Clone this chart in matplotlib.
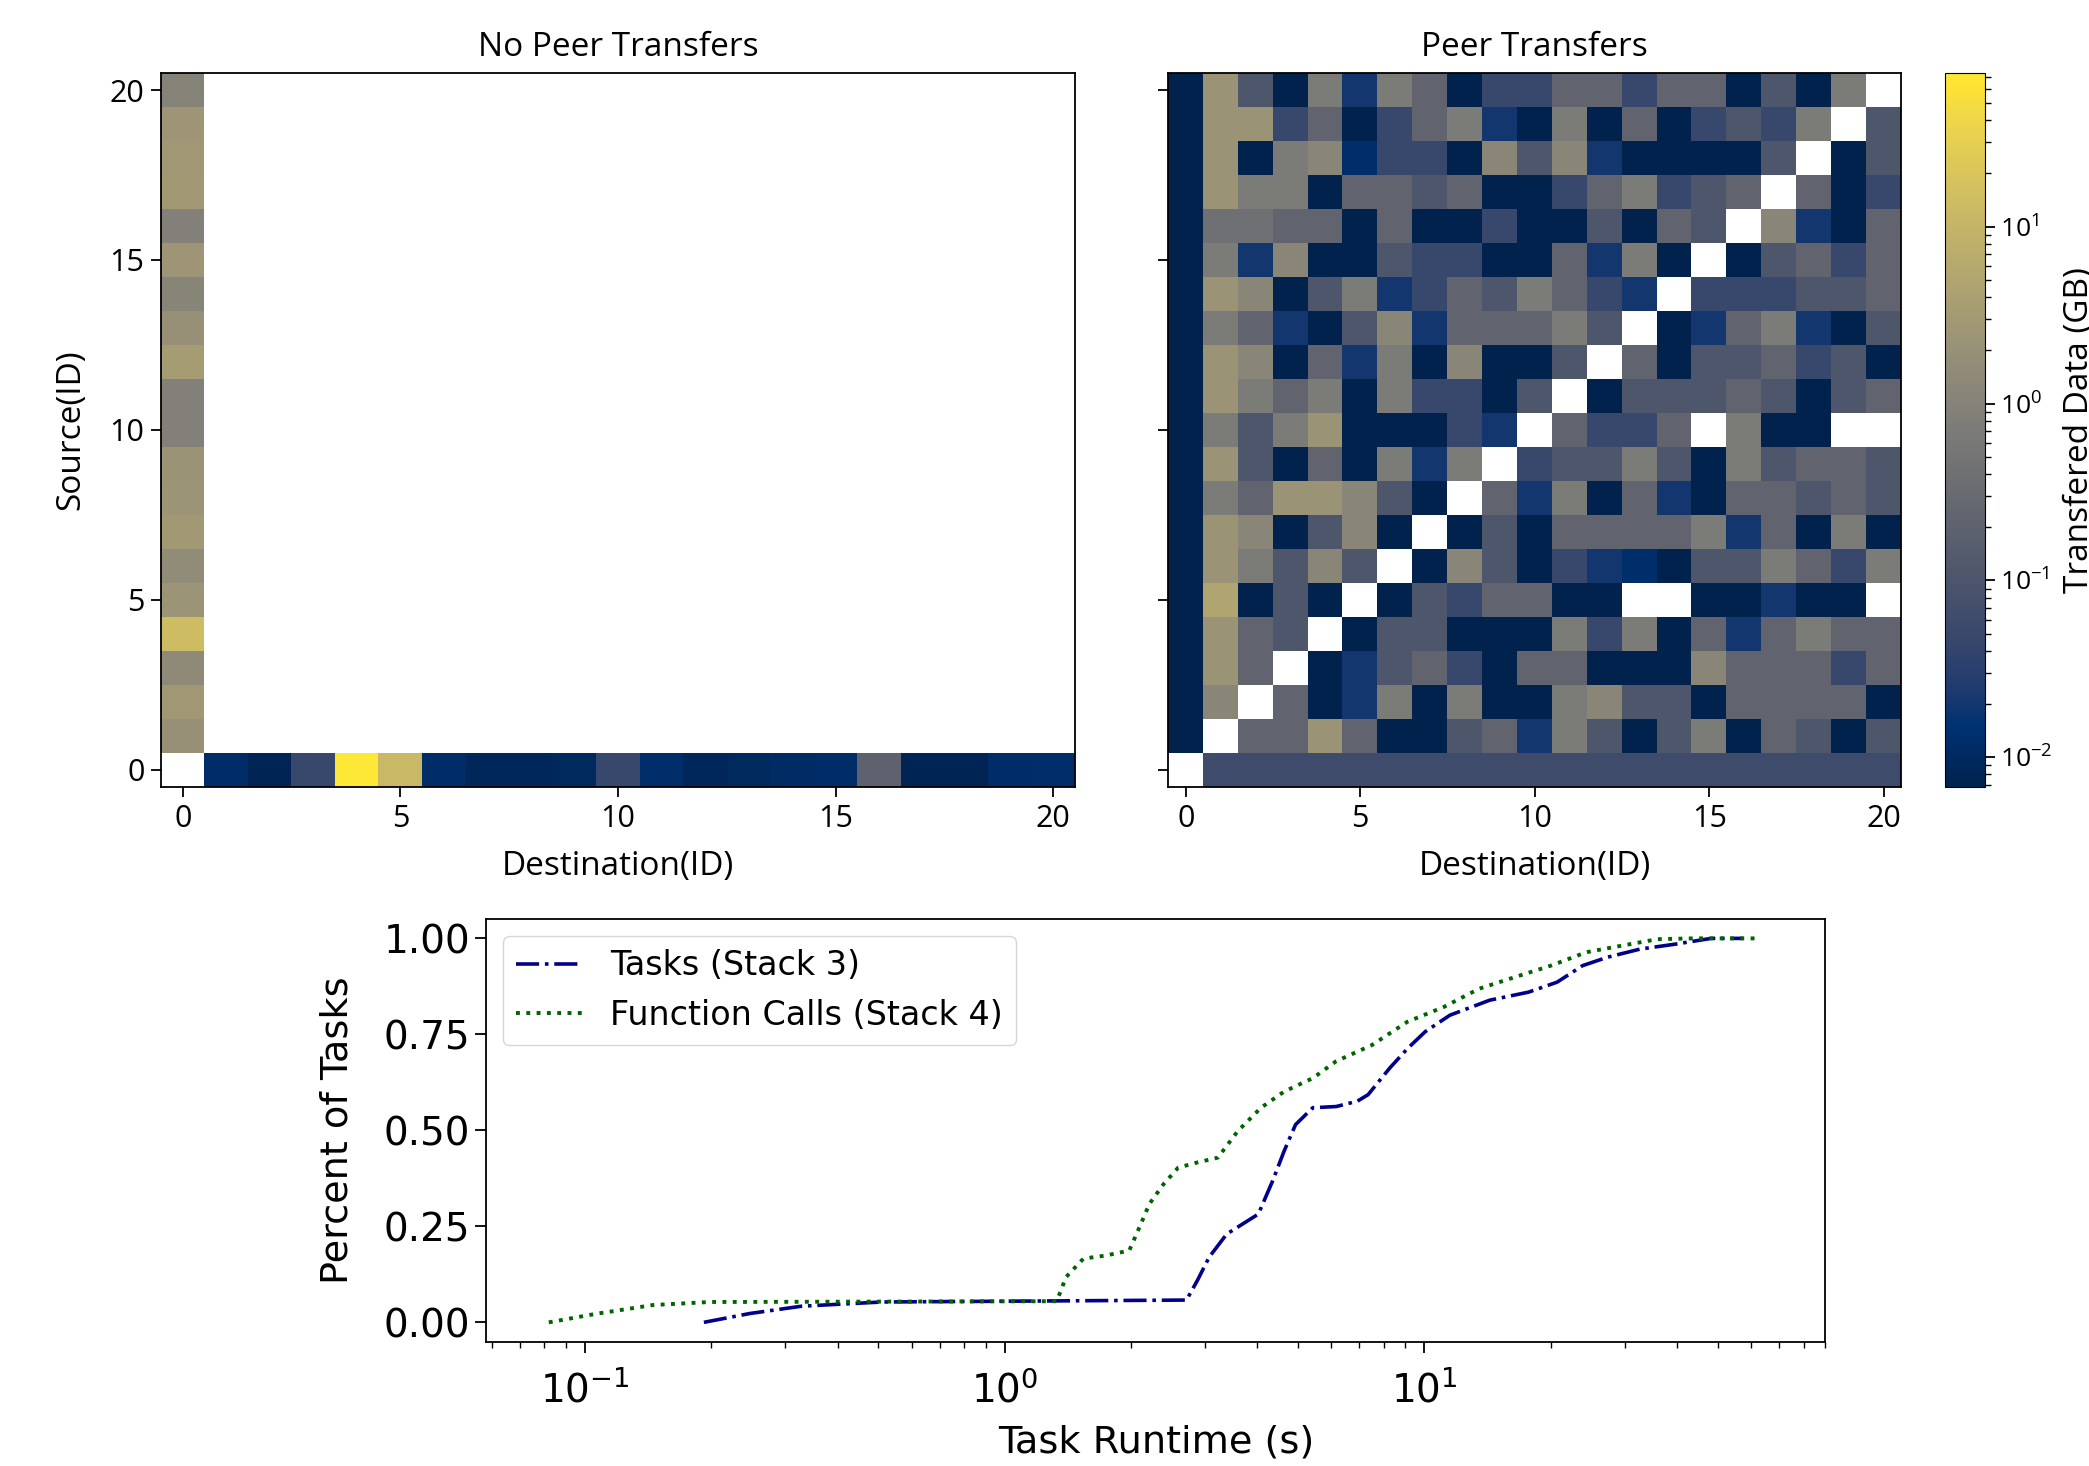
import numpy as np
import matplotlib

matplotlib.use("Agg")
import matplotlib.pyplot as plt
from matplotlib.colors import LogNorm

# --- transfer volumes (GB), node 0 is the manager ---
node_ids = np.arange(21)

# without peer transfers everything goes through the manager
no_peer_to_manager = [2.0, 2.8, 1.5, 14.0, 2.4, 1.6, 3.0, 2.4, 2.2, 0.9,
                      0.9, 3.5, 2.0, 1.1, 2.5, 0.9, 3.0, 2.8, 2.5, 1.0]  # sources 1..20
no_peer_from_manager = [0.012, 0.008, 0.05, 74.0, 12.0, 0.012, 0.009, 0.009, 0.01, 0.05,
                        0.013, 0.009, 0.01, 0.011, 0.012, 0.2, 0.008, 0.008, 0.012, 0.013]  # dests 1..20

# with peer transfers, rows are sources 20 (top) down to 0, columns destinations 0..20
peer_transfers = [
    [.007, 2.2, .11, .007, .7, .02, .7, .23, .007, .05, .05, .23, .23, .05, .23, .23, .007, .11, .007, .7, 0],
    [.007, 2.2, 2.2, .05, .23, .007, .05, .23, .7, .02, .007, .7, .007, .23, .007, .05, .11, .05, .7, 0, .11],
    [.007, 2.2, .007, .7, 1.2, .013, .05, .05, .007, 1.2, .11, 1.2, .02, .007, .007, .007, .007, .11, 0, .007, .11],
    [.007, 2.2, .7, .7, .007, .23, .23, .11, .23, .007, .007, .05, .23, .7, .05, .11, .23, 0, .23, .007, .05],
    [.007, .4, .4, .23, .23, .007, .23, .007, .007, .05, .007, .007, .11, .007, .23, .11, 0, 1.2, .02, .007, .23],
    [.007, .7, .02, 1.2, .007, .007, .11, .05, .05, .007, .007, .23, .02, .7, .007, 0, .007, .11, .23, .05, .23],
    [.007, 2.2, 1.2, .007, .11, .7, .02, .05, .23, .11, .7, .23, .05, .02, 0, .05, .05, .05, .11, .11, .23],
    [.007, .7, .23, .02, .007, .11, 1.2, .02, .23, .23, .23, .7, .11, 0, .007, .02, .23, .7, .02, .007, .11],
    [.007, 2.2, 1.2, .007, .23, .02, .7, .007, 1.2, .007, .007, .11, 0, .23, .007, .11, .11, .23, .05, .11, .007],
    [.007, 2.2, .7, .23, .7, .007, .7, .05, .05, .007, .11, 0, .007, .11, .11, .11, .23, .11, .007, .11, .23],
    [.007, .7, .11, .7, 2.2, .007, .007, .007, .05, .02, 0, .23, .05, .05, .23, 0, .7, .007, .007, 0, 0],
    [.007, 2.2, .11, .007, .23, .007, .7, .02, .7, 0, .05, .11, .11, .7, .11, .007, .7, .11, .23, .23, .11],
    [.007, .7, .23, 2.2, 2.2, 1.2, .11, .007, 0, .23, .02, .7, .007, .23, .02, .007, .23, .23, .11, .23, .11],
    [.007, 2.2, 1.2, .007, .11, 1.2, .007, 0, .007, .11, .007, .23, .23, .23, .23, .7, .02, .23, .007, .7, .007],
    [.007, 2.2, .7, .11, 1.2, .11, 0, .007, 1.2, .11, .007, .05, .02, .013, .007, .11, .11, .7, .23, .05, .7],
    [.007, 5.0, .007, .11, .007, 0, .007, .11, .05, .23, .23, .007, .007, 0, 0, .007, .007, .02, .007, .007, 0],
    [.007, 2.2, .23, .11, 0, .007, .11, .11, .007, .007, .007, .7, .05, .7, .007, .23, .02, .23, .7, .23, .23],
    [.007, 2.2, .23, 0, .007, .02, .11, .23, .05, .007, .23, .23, .007, .007, .007, 1.2, .23, .23, .23, .05, .23],
    [.007, 1.2, 0, .23, .007, .02, .7, .007, .7, .007, .007, .7, 1.2, .11, .11, .007, .23, .23, .23, .23, .007],
    [.007, 0, .23, .23, 2.2, .23, .007, .007, .11, .23, .02, .7, .11, .007, .11, .7, .007, .23, .11, .007, .11],
    [0, .06, .06, .06, .06, .06, .06, .06, .06, .06, .06, .06, .06, .06, .06, .06, .06, .06, .06, .06, .06],
]

# --- task runtime CDFs ---
task_runtime_s = [0.192, 0.247, 0.328, 0.51, 2.71, 2.88, 3.07, 3.38, 4.02, 4.35, 4.63, 4.93,
                  5.42, 6.16, 6.92, 7.34, 8.26, 9.11, 10.04, 11.5, 14.3, 17.7, 20.7, 23.8,
                  27.3, 32.6, 39.6, 48.2, 57.5]
task_cdf = [0.0, 0.023, 0.042, 0.053, 0.058, 0.11, 0.17, 0.23, 0.282, 0.369, 0.446, 0.515,
            0.559, 0.562, 0.576, 0.593, 0.662, 0.713, 0.757, 0.80, 0.839, 0.86, 0.886, 0.929,
            0.951, 0.972, 0.985, 1.0, 1.0]

call_runtime_s = [0.082, 0.106, 0.145, 0.198, 1.33, 1.40, 1.54, 1.74, 1.98, 2.11, 2.21, 2.39,
                  2.59, 2.89, 3.22, 3.59, 4.08, 4.63, 5.42, 6.16, 7.49, 9.11, 11.1, 13.5,
                  16.4, 20.0, 24.3, 29.5, 35.9, 43.7, 62.8]
call_cdf = [0.0, 0.022, 0.045, 0.053, 0.055, 0.118, 0.166, 0.174, 0.187, 0.256, 0.308, 0.36,
            0.403, 0.417, 0.429, 0.498, 0.559, 0.601, 0.636, 0.68, 0.722, 0.783, 0.821, 0.869,
            0.899, 0.929, 0.964, 0.981, 0.998, 1.0, 1.0]


def build_no_peer_matrix():
    mat = np.zeros((len(node_ids), len(node_ids)))
    mat[1:, 0] = no_peer_to_manager
    mat[0, 1:] = no_peer_from_manager
    return mat


def draw_heatmap(ax, mat, norm, cmap, title):
    im = ax.imshow(np.ma.masked_less_equal(mat, 0), cmap=cmap, norm=norm,
                   origin="lower", aspect="auto", interpolation="nearest")
    ax.set_xticks(node_ids[::5])
    ax.set_yticks(node_ids[::5])
    ax.set_title(title, fontsize=24, pad=12)
    ax.set_xlabel("Destination(ID)", fontsize=24, labelpad=12)
    ax.tick_params(labelsize=22, length=7, width=1.3, pad=5)
    for sp in ax.spines.values():
        sp.set_linewidth(1.3)
    return im


plt.rcParams["font.family"] = ["Open Sans", "DejaVu Sans"]

CAX_POS = [0.9311, 0.4632, 0.0191, 0.4870]

fig = plt.figure(figsize=(20.89, 14.66), dpi=100)
ax_left = fig.add_axes([0.0771, 0.4632, 0.4375, 0.4870])
ax_right = fig.add_axes([0.5593, 0.4632, 0.3508, 0.4870], sharey=ax_left)
cax = fig.add_axes(CAX_POS)
ax_cdf = fig.add_axes([0.2328, 0.0849, 0.6410, 0.2881])

cmap = plt.get_cmap("cividis").copy()
cmap.set_bad("white")
norm = LogNorm(vmin=0.0068, vmax=74)

draw_heatmap(ax_left, build_no_peer_matrix(), norm, cmap, "No Peer Transfers")
im = draw_heatmap(ax_right, np.array(peer_transfers)[::-1], norm, cmap, "Peer Transfers")
ax_left.set_ylabel("Source(ID)", fontsize=24, labelpad=16)
ax_right.tick_params(labelleft=False)

cbar = fig.colorbar(im, cax=cax)
cax.set_box_aspect(None)
cax.set_position(CAX_POS)
cbar.set_label("Transfered Data (GB)", fontsize=24, labelpad=8)
cbar.ax.tick_params(labelsize=19, length=7, width=1.3)
cbar.ax.tick_params(which="minor", length=4, width=1)

# bottom: runtime CDF
dv = "DejaVu Sans"
ax_cdf.plot(task_runtime_s, task_cdf, "-.", color="darkblue", lw=2.6, label="Tasks (Stack 3)")
ax_cdf.plot(call_runtime_s, call_cdf, ":", color="darkgreen", lw=2.8, label="Function Calls (Stack 4)")
ax_cdf.set_xscale("log")
ax_cdf.set_xlim(10 ** -1.235, 10 ** 1.955)
ax_cdf.set_ylim(-0.05, 1.05)
ax_cdf.set_yticks([0.0, 0.25, 0.5, 0.75, 1.0])
ax_cdf.set_yticklabels(["0.00", "0.25", "0.50", "0.75", "1.00"])
ax_cdf.set_xlabel("Task Runtime (s)", fontsize=27.5, family=dv, labelpad=10)
ax_cdf.set_ylabel("Percent of Tasks", fontsize=27.5, family=dv, labelpad=20)
ax_cdf.tick_params(labelsize=28, length=8, width=1.3, labelfontfamily=dv)
ax_cdf.tick_params(axis="x", pad=13)
ax_cdf.tick_params(which="minor", length=4.5, width=1)
for sp in ax_cdf.spines.values():
    sp.set_linewidth(1.3)
ax_cdf.legend(loc="upper left", prop={"family": dv, "size": 24})

fig.savefig("out.png", dpi=100, facecolor="white")
